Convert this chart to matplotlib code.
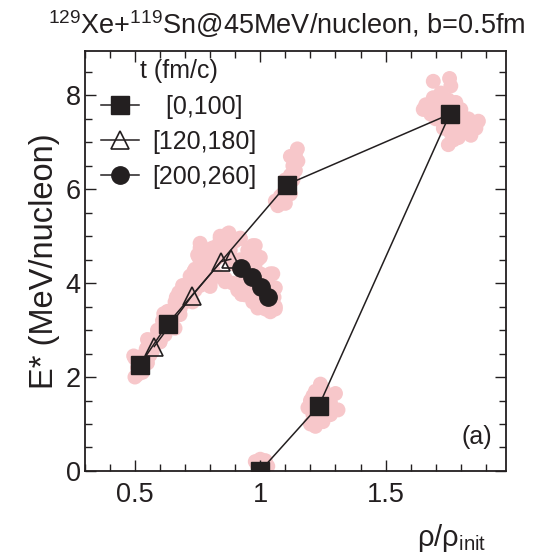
import matplotlib
matplotlib.use("Agg")
import matplotlib.pyplot as plt
from matplotlib.ticker import MultipleLocator

plt.rcParams['font.family'] = ['Liberation Sans', 'DejaVu Sans']
plt.rcParams['mathtext.fontset'] = 'custom'
plt.rcParams['mathtext.rm'] = 'Liberation Sans'
plt.rcParams['mathtext.it'] = 'Liberation Sans'

# time-interval series (rho/rho_init, E* in MeV/nucleon)
sq_x = [1.0, 1.234, 1.756, 1.106, 0.63, 0.52]
sq_y = [0.0, 1.39, 7.6, 6.1, 3.13, 2.26]
tri_x = [0.577, 0.726, 0.843, 0.882]
tri_y = [2.65, 3.72, 4.46, 4.51]
circ_x = [0.925, 0.966, 1.002, 1.031]
circ_y = [4.33, 4.14, 3.92, 3.70]
labels = ['  [0,100]', '[120,180]', '[200,260]']

# event clouds (pink)
cloud_x = [
    # t=0
    0.99, 1.01, 1.03, 0.98, 1.00, 1.02,
    # compression
    1.21, 1.20, 1.22, 1.25, 1.27, 1.30, 1.31, 1.28, 1.25, 1.22, 1.19, 1.24, 1.20, 1.23,
    1.26, 1.21, 1.28,
    # max compression
    1.66, 1.69, 1.72, 1.75, 1.78, 1.80, 1.83, 1.86, 1.84, 1.80, 1.77, 1.75, 1.73, 1.70,
    1.68, 1.65, 1.78, 1.69, 1.755, 1.76, 1.81, 1.87, 1.72, 1.79,
    1.72, 1.75, 1.78, 1.81, 1.76, 1.71, 1.74, 1.83, 1.79,
    # expansion
    1.10, 1.09, 1.11, 1.12, 1.10, 1.13, 1.12, 1.15, 1.148, 1.14, 1.07, 1.06, 1.08,
    1.11, 1.13, 1.09, 1.12, 1.14, 1.08,
    # big band
    0.50, 0.51, 0.53, 0.50, 0.53, 0.55, 0.545, 0.57, 0.57, 0.60, 0.59, 0.62, 0.61, 0.64,
    0.63, 0.66, 0.66, 0.68, 0.675, 0.70, 0.70, 0.72, 0.72, 0.74, 0.74, 0.76, 0.755, 0.78,
    0.77, 0.80, 0.79, 0.81, 0.83, 0.83, 0.85, 0.87, 0.86, 0.89, 0.88, 0.90, 0.92, 0.92,
    0.91, 0.94, 0.95, 0.97, 0.96, 0.97, 0.99, 1.00, 0.995, 1.02, 1.03, 1.04, 1.055, 1.06,
    1.05, 0.84, 0.76,
    0.52, 0.54, 0.56, 0.58, 0.60, 0.62, 0.64, 0.66, 0.68, 0.70, 0.72, 0.74, 0.76, 0.78,
    0.80, 0.82, 0.84, 0.86, 0.88, 0.90, 0.92, 0.94, 0.96, 0.98, 1.00, 1.02, 0.94, 0.98,
    1.01, 0.93, 0.97,
    0.495, 0.55, 0.615, 0.665, 0.69, 0.735, 0.76, 0.84, 0.875, 0.92, 0.98, 1.00, 1.04,
    1.06, 1.06, 1.04, 0.99, 0.925, 0.86, 0.80, 0.73, 0.68, 0.66, 0.60, 0.56, 0.53, 0.51,
    0.75, 0.78, 0.81, 0.79, 0.77, 0.83, 0.86,
]
cloud_y = [
    0.10, 0.15, 0.10, 0.20, 0.25, 0.22,
    1.20, 1.50, 1.70, 1.75, 1.55, 1.65, 1.30, 1.20, 1.05, 0.95, 1.35, 1.85, 1.00, 1.40,
    1.30, 1.60, 1.45,
    7.80, 7.95, 8.05, 7.90, 7.85, 7.70, 7.50, 7.30, 7.15, 7.20, 7.05, 6.95, 7.30, 7.50,
    7.60, 7.70, 7.45, 8.30, 8.36, 8.20, 7.35, 7.45, 7.70, 7.60,
    7.60, 7.40, 7.60, 7.50, 7.20, 7.75, 7.75, 7.35, 7.10,
    5.70, 5.90, 6.00, 6.30, 6.20, 6.50, 6.70, 6.60, 6.86, 6.40, 5.65, 5.75, 5.85,
    6.10, 6.20, 5.80, 5.90, 6.75, 5.70,
    2.00, 2.20, 2.10, 2.40, 2.45, 2.30, 2.60, 2.55, 2.80, 2.75, 3.00, 2.90, 3.20, 3.10,
    3.40, 3.30, 3.60, 3.45, 3.80, 3.60, 3.95, 3.70, 4.15, 3.85, 4.30, 3.95, 4.55, 4.10,
    4.75, 4.00, 4.50, 4.75, 4.15, 4.55, 4.95, 5.05, 4.10, 4.00, 4.70, 4.90, 4.95, 4.50,
    3.85, 3.75, 4.70, 4.80, 4.30, 3.60, 4.50, 4.20, 3.50, 3.45, 4.10, 3.90, 3.70, 3.45,
    4.20, 5.00, 4.85,
    2.30, 2.40, 2.50, 2.70, 2.95, 3.10, 3.30, 3.45, 3.60, 3.80, 3.95, 4.10, 4.20, 4.35,
    4.45, 4.50, 4.60, 4.60, 4.55, 4.40, 4.30, 4.20, 4.00, 3.90, 3.80, 3.60, 4.50, 4.30,
    4.00, 4.10, 4.00,
    2.45, 2.80, 3.35, 3.70, 3.95, 4.25, 4.75, 4.95, 5.07, 4.96, 4.80, 4.55, 4.20,
    3.90, 3.50, 3.39, 3.47, 3.76, 4.03, 3.93, 3.60, 3.33, 3.04, 2.75, 2.47, 2.25, 2.05,
    4.60, 4.25, 4.30, 4.65, 4.45, 4.80, 4.85,
]

ink = '#231f20'
pink = '#f7c7ca'

fig = plt.figure(figsize=(5.4, 5.58), dpi=100)
ax = fig.add_axes([0.157, 0.156, 0.780, 0.753])

ax.scatter(cloud_x, cloud_y, s=115, color=pink, edgecolors='none', zorder=1)

ax.plot(sq_x, sq_y, '-', color=ink, lw=1.1, marker='s', ms=13, mfc=ink, mec=ink,
        label=labels[0], zorder=3)
ax.plot(tri_x, tri_y, '-', color=ink, lw=1.1, marker='^', ms=13, mfc='none', mec=ink,
        mew=1.2, label=labels[1], zorder=4)
ax.plot(circ_x, circ_y, '-', color=ink, lw=1.1, marker='o', ms=12.5, mfc=ink, mec=ink,
        label=labels[2], zorder=5)

ax.set_xlim(0.3, 1.98)
ax.set_ylim(0, 8.95)
ax.xaxis.set_major_locator(MultipleLocator(0.5))
ax.xaxis.set_minor_locator(MultipleLocator(0.1))
ax.yaxis.set_major_locator(MultipleLocator(2))
ax.yaxis.set_minor_locator(MultipleLocator(0.5))
ax.set_xticks([0.5, 1.0, 1.5])
ax.set_xticklabels(['0.5', '1', '1.5'])
ax.tick_params(which='both', direction='in', top=True, right=True, width=1.0,
               colors=ink, labelsize=19.5)
ax.tick_params(which='major', length=8)
ax.tick_params(which='minor', length=5)
ax.tick_params(axis='x', which='major', pad=8)
ax.tick_params(axis='y', which='major', pad=3)
for s in ax.spines.values():
    s.set_linewidth(1.3)
    s.set_color(ink)

ax.set_ylabel('E* (MeV/nucleon)', fontsize=23.5, color=ink, labelpad=4)
ax.set_title(r'$^{129}$Xe+$^{119}$Sn@45MeV/nucleon, b=0.5fm', fontsize=19.5,
             color=ink, pad=12, x=0.48)
fig.text(0.772, 0.022, r'ρ/ρ$_{\mathrm{init}}$', fontsize=21, color=ink)
ax.text(0.967, 0.08, '(a)', transform=ax.transAxes, fontsize=18, color=ink,
        ha='right', va='center')

leg = ax.legend(loc='upper left', bbox_to_anchor=(0.0, 1.018), title='t (fm/c)',
                frameon=False, fontsize=18, title_fontsize=18, handlelength=1.5,
                handletextpad=0.55, labelspacing=0.45, borderaxespad=0.25)
for t in leg.get_texts():
    t.set_color(ink)
leg.get_title().set_color(ink)

fig.savefig('out.png', dpi=100)
